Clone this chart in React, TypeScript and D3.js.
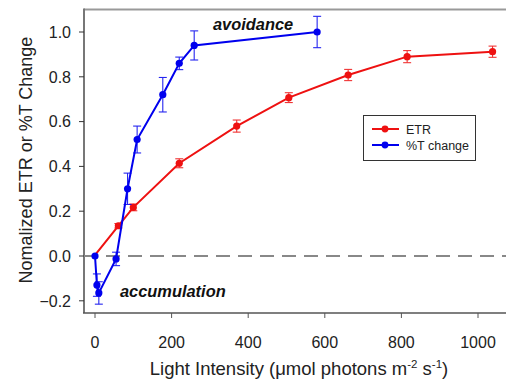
import React from 'react';
import * as d3 from 'd3';

const W = 506;
const H = 379;

// %T change (blue)
const tX = [0, 5, 10, 55, 85, 110, 177, 220, 259, 580];
const tY = [0.0, -0.13, -0.165, -0.013, 0.3, 0.52, 0.72, 0.86, 0.94, 1.0];
const tErr = [0, 0.05, 0.05, 0.03, 0.07, 0.06, 0.077, 0.028, 0.065, 0.07];

// ETR (red)
const eX = [2, 61, 100, 220, 370, 506, 661, 815, 1038];
const eY = [0.008, 0.135, 0.217, 0.414, 0.58, 0.707, 0.808, 0.89, 0.912];
const eErr = [0, 0.01, 0.015, 0.02, 0.027, 0.022, 0.025, 0.027, 0.025];

const xTicks = [0, 200, 400, 600, 800, 1000];
const yTicks = [-0.2, 0, 0.2, 0.4, 0.6, 0.8, 1.0];

const plot = { left: 84, right: 506, top: 9.5, bottom: 313 };
const font = '"Liberation Sans", Arial, sans-serif';

const RED = '#ee1111';
const BLUE = '#0000ee';

const x = d3.scaleLinear().domain([0, 1000]).range([95, 478]);
const y = d3.scaleLinear().domain([0, 1]).range([256, 32]);

function Series({ xs, ys, errs, color, showFirst = true }) {
  const line = d3
    .line<number>()
    .x((_, i) => x(xs[i]))
    .y((d) => y(d));
  return (
    <g>
      <path d={line(ys) || ''} fill="none" stroke={color} strokeWidth={2} />
      {ys.map((v, i) =>
        errs[i] > 0 ? (
          <g key={'e' + i} stroke={color} strokeWidth={1.1} opacity={0.85}>
            <line x1={x(xs[i])} x2={x(xs[i])} y1={y(v + errs[i])} y2={y(v - errs[i])} />
            <line x1={x(xs[i]) - 4} x2={x(xs[i]) + 4} y1={y(v + errs[i])} y2={y(v + errs[i])} />
            <line x1={x(xs[i]) - 4} x2={x(xs[i]) + 4} y1={y(v - errs[i])} y2={y(v - errs[i])} />
          </g>
        ) : null
      )}
      {ys.map((v, i) =>
        i === 0 && !showFirst ? null : (
          <circle key={'c' + i} cx={x(xs[i])} cy={y(v)} r={3.6} fill={color} />
        )
      )}
    </g>
  );
}

export default function App() {
  return (
    <svg
      width={W}
      height={H}
      style={{ position: 'absolute', left: 0, top: 0, background: '#fff' }}
      fontFamily={font}
    >
      {/* frame */}
      <line x1={plot.left} x2={plot.right} y1={plot.top} y2={plot.top} stroke="#999" strokeWidth={2} />
      <line x1={plot.left} x2={plot.left} y1={plot.top - 1} y2={plot.bottom} stroke="#777" strokeWidth={2} />
      <line x1={plot.left - 1} x2={plot.right} y1={plot.bottom} y2={plot.bottom} stroke="#555" strokeWidth={1.5} />

      {/* y ticks */}
      {yTicks.map((t) => (
        <g key={'y' + t}>
          <line x1={plot.left - 5} x2={plot.left} y1={y(t)} y2={y(t)} stroke="#333" strokeWidth={1} />
          <text x={plot.left - 13} y={y(t)} dy="0.36em" textAnchor="end" fontSize={16} fill="#222">
            {d3.format('.1f')(t)}
          </text>
        </g>
      ))}

      {/* x ticks */}
      {xTicks.map((t) => (
        <g key={'x' + t}>
          <line x1={x(t)} x2={x(t)} y1={plot.bottom} y2={plot.bottom + 5} stroke="#555" strokeWidth={1} />
          <text x={x(t)} y={plot.bottom + 35} textAnchor="middle" fontSize={16} fill="#222">
            {t}
          </text>
        </g>
      ))}

      {/* zero line */}
      <line
        x1={plot.left}
        x2={plot.right}
        y1={y(0)}
        y2={y(0)}
        stroke="#888"
        strokeWidth={2}
        strokeDasharray="14 8"
      />

      <Series xs={eX} ys={eY} errs={eErr} color={RED} showFirst={false} />
      <Series xs={tX} ys={tY} errs={tErr} color={BLUE} />

      {/* annotations */}
      <text x={213} y={30} fontSize={16.4} fontWeight="bold" fontStyle="italic" fill="#111">
        avoidance
      </text>
      <text x={120} y={297} fontSize={16.4} fontWeight="bold" fontStyle="italic" fill="#111">
        accumulation
      </text>

      {/* legend */}
      <rect x={363.5} y={115.5} width={112} height={45} fill="#fff" stroke="#333" strokeWidth={1} />
      <line x1={372} x2={399} y1={129} y2={129} stroke={RED} strokeWidth={2} />
      <circle cx={385} cy={129} r={3.4} fill={RED} />
      <text x={406} y={133.5} fontSize={12.5} fill="#222">ETR</text>
      <line x1={372} x2={399} y1={145} y2={145} stroke={BLUE} strokeWidth={2} />
      <circle cx={385} cy={145} r={3.4} fill={BLUE} />
      <text x={406} y={149.5} fontSize={12.5} fill="#222">%T change</text>

      {/* axis labels */}
      <text x={299} y={375} textAnchor="middle" fontSize={18.5} fill="#222">
        Light Intensity (μmol photons m
        <tspan dy={-7} fontSize={11.5}>-2</tspan>
        <tspan dy={7}> s</tspan>
        <tspan dy={-7} fontSize={11.5}>-1</tspan>
        <tspan dy={7}>)</tspan>
      </text>
      <text
        transform={`translate(32, 160) rotate(-90)`}
        textAnchor="middle"
        fontSize={18}
        fill="#222"
      >
        Nomalized ETR or %T Change
      </text>
    </svg>
  );
}
